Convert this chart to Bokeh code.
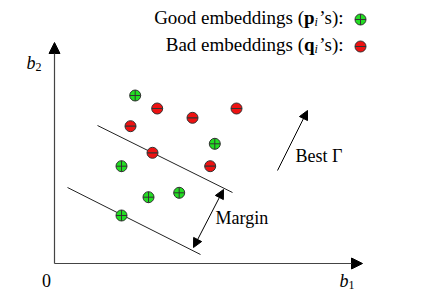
from bokeh.plotting import figure
from bokeh.models import Range1d, Arrow, NormalHead, Label
from bokeh.embed import file_html
from bokeh.resources import INLINE

# Embeddings in the (b1, b2) plane
good_b1 = [8.07, 16.03, 6.70, 9.40, 12.47, 6.70]
good_b2 = [16.80, 11.97, 9.73, 6.63, 7.07, 4.80]
bad_b1 = [10.27, 13.80, 18.20, 7.60, 9.80, 15.57]
bad_b2 = [15.50, 14.57, 15.50, 13.73, 11.07, 9.73]

# Two parallel separating lines bounding the margin
upper_b1 = [4.3, 17.8]
upper_b2 = [13.8, 7.1]
lower_b1 = [1.3, 14.6]
lower_b2 = [7.6, 0.9]

GREEN = "#22dd22"
RED = "#ee1111"
EDGE = "#333333"
FONT = "Liberation Serif"
TEXT_SHIFT = -7  # pull text baselines up

p = figure(width=422, height=297, output_backend="svg", toolbar_location=None,
           x_range=Range1d(-5.4, 36.8), y_range=Range1d(-3.4, 26.3),
           min_border=0, outline_line_color=None)
p.axis.visible = False
p.grid.visible = False
p.background_fill_color = "white"
p.border_fill_color = "white"


def sx(px):
    return (px - 54) / 10.0


def sy(py):
    return (263 - py) / 10.0


def label(x, y, text, size="18px", style="normal", align="left"):
    p.add_layout(Label(x=sx(x), y=sy(y + TEXT_SHIFT), text=text, text_font=FONT,
                       text_font_size=size, text_font_style=style,
                       text_align=align, text_baseline="alphabetic",
                       text_color="black"))


# axes with arrowheads
axis_head = dict(size=11, fill_color="black", line_color="black", line_width=1)
p.add_layout(Arrow(end=NormalHead(**axis_head), x_start=0, y_start=0,
                   x_end=30.8, y_end=0, line_color="#444444", line_width=1.2))
p.add_layout(Arrow(end=NormalHead(**axis_head), x_start=0, y_start=0,
                   x_end=0, y_end=22.1, line_color="#444444", line_width=1.2))

# separating lines
p.line(upper_b1, upper_b2, line_color="#222222", line_width=1)
p.line(lower_b1, lower_b2, line_color="#222222", line_width=1)

# margin arrow (double headed) and direction of the best Gamma
head = dict(size=9, fill_color="black", line_color="black", line_width=1)
p.add_layout(Arrow(start=NormalHead(**head), end=NormalHead(**head),
                   x_start=sx(193), y_start=sy(247), x_end=sx(223), y_end=sy(189),
                   line_color="black", line_width=1))
p.add_layout(Arrow(end=NormalHead(**head),
                   x_start=sx(277), y_start=sy(170), x_end=sx(307), y_end=sy(110),
                   line_color="black", line_width=1))

# embeddings
p.scatter(good_b1, good_b2, marker="circle_cross", size=11,
          fill_color=GREEN, line_color=EDGE, line_width=1)
p.scatter(bad_b1, bad_b2, marker="circle", size=11,
          fill_color=RED, line_color=EDGE, line_width=1)
p.scatter(bad_b1, bad_b2, marker="dash", size=11,
          line_color=EDGE, line_width=1.2)

# legend
legend_x = [sx(360), sx(360)]
legend_y = [sy(19), sy(46)]
p.scatter(legend_x[:1], legend_y[:1], marker="circle_cross", size=11,
          fill_color=GREEN, line_color=EDGE, line_width=1)
p.scatter(legend_x[1:], legend_y[1:], marker="circle", size=11,
          fill_color=RED, line_color=EDGE, line_width=1)
p.scatter(legend_x[1:], legend_y[1:], marker="dash", size=11,
          line_color=EDGE, line_width=1.2)

for base, sym, desc in [(24, "p", "Good embeddings ("), (51, "q", "Bad embeddings (")]:
    label(343, base, "\u2019s):", size="19px", align="right")
    label(314, base + 4, "i", size="12px", style="italic")
    label(303.5, base, sym, size="19px", style="bold")
    label(303.5, base, desc, size="19px", align="right")

# axis labels
label(46, 287, "0", align="center")
label(339, 287, "b", style="italic")
label(348, 291, "1", size="12px")
label(26, 69, "b", style="italic")
label(35, 73, "2", size="12px")

# annotations
label(215, 224, "Margin")
label(295, 162, "Best \u0393")

open("out.html", "w").write(file_html(p, INLINE))
